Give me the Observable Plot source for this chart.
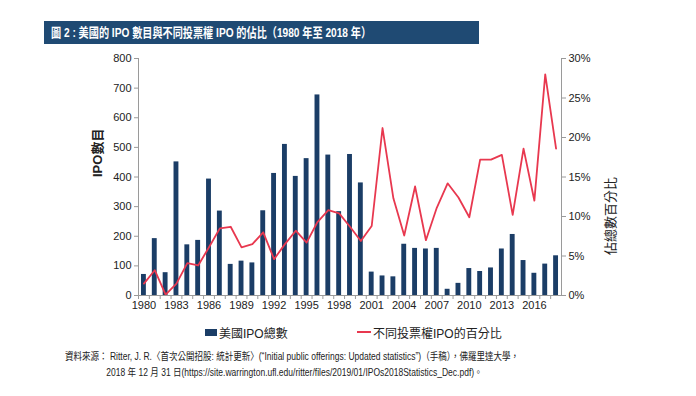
<!DOCTYPE html>
<html><head><meta charset="utf-8">
<script src="https://cdn.jsdelivr.net/npm/d3@7"></script>
<script src="https://cdn.jsdelivr.net/npm/@observablehq/plot@0.6"></script>
<style>
body{margin:0;background:#fff;font-family:"Liberation Sans","Noto Sans CJK TC",sans-serif;color:#222;}
#wrap{position:relative;width:696px;height:396px;overflow:hidden;}
#title{position:absolute;left:44px;top:21px;width:435px;height:23px;background:#1f4a73;color:#fff;font-weight:bold;font-size:13px;line-height:23px;padding-left:7px;box-sizing:border-box;white-space:nowrap;}
#title span{display:inline-block;transform:scaleX(0.78);transform-origin:left center;}
#chart{position:absolute;left:0;top:50px;}
#legend{position:absolute;top:324px;left:0;width:696px;height:16px;font-size:12px;}
.lg{position:absolute;top:0;display:flex;align-items:center;height:16px;white-space:nowrap;}
.sw-bar{display:inline-block;width:12px;height:7px;margin-right:2px;}
.sw-line{display:inline-block;width:14px;height:2px;margin-right:2px;}
#caption{position:absolute;left:65px;top:348px;font-size:10.5px;line-height:16px;white-space:nowrap;transform:scaleX(0.81);transform-origin:left top;}
#caption .l2{padding-left:51px;}
</style>
</head><body>
<div id="wrap">
  <div id="title"><span></span></div>
  <div id="chart"></div>
  <div id="legend"></div>
  <div id="caption"></div>
</div>
<script>
const titleText = "圖 2 : 美國的 IPO 數目與不同投票權 IPO 的佔比（1980 年至 2018 年）";
const years = [1980,1981,1982,1983,1984,1985,1986,1987,1988,1989,1990,1991,1992,1993,1994,1995,1996,1997,1998,1999,2000,2001,2002,2003,2004,2005,2006,2007,2008,2009,2010,2011,2012,2013,2014,2015,2016,2017,2018];
const ipoCount = [71,192,77,451,171,186,393,285,105,116,110,286,412,510,402,462,677,474,283,476,380,79,66,63,173,159,157,159,21,41,91,81,93,157,206,118,75,106,134];
const dualPct = [1.5,3.2,0.1,1.5,4.1,3.8,6.1,8.5,8.7,6.1,6.5,8.0,4.6,6.5,8.2,6.7,9.3,10.8,10.4,8.7,6.9,8.8,21.2,12.3,7.6,13.8,7.0,11.1,14.2,12.4,9.9,17.2,17.2,17.8,10.2,18.6,12.0,28.0,18.6];
const leftTicks = [0,100,200,300,400,500,600,700,800];
const pctTicks = [0,5,10,15,20,25,30];
const labelYears = [1980,1983,1986,1989,1992,1995,1998,2001,2004,2007,2010,2013,2016];
const seriesNames = ["美國IPO總數","不同投票權IPO的百分比"];
const leftLabel = "IPO數目";
const rightLabel = "佔總數百分比";
const captionLines = [
  "資料來源： Ritter, J. R.〈首次公開招股: 統計更新〉(“Initial public offerings: Updated statistics”)（手稿），佛羅里達大學，",
  "2018 年 12 月 31 日(https://site.warrington.ufl.edu/ritter/files/2019/01/IPOs2018Statistics_Dec.pdf)。"
];

const barColor = "#1b3d66";
const lineColor = "#e8384f";
const axisColor = "#9a9a9a";
const font = "'Liberation Sans','Noto Sans CJK TC',sans-serif";

document.querySelector("#title span").textContent = titleText;

const data = years.map((y,i)=>({year:y, count:ipoCount[i], pct:dualPct[i]}));
const K = 800/30;
const W = 696, mL = 138, mR = 135;
const step = (W - mL - mR) / years.length;

const chart = Plot.plot({
  width: W, height: 265,
  marginLeft: mL, marginRight: mR, marginTop: 8, marginBottom: 20,
  style: {fontFamily: font, fontSize: "11px", color: "#222", background: "transparent"},
  x: {type: "band", domain: years, paddingInner: 0.55, paddingOuter: 0.275, round: false, axis: null},
  y: {domain: [0, 800], axis: null},
  marks: [
    Plot.barY(data, {x: "year", y: "count", fill: barColor}),
    Plot.lineY(data, {x: "year", y: d => d.pct * K, stroke: lineColor, strokeWidth: 1.8}),
    Plot.ruleY([0], {stroke: axisColor}),
    Plot.frame({anchor: "left", stroke: axisColor}),
    Plot.frame({anchor: "right", stroke: axisColor}),
    Plot.axisY({anchor: "left", ticks: leftTicks, tickSize: 4, tickPadding: 3, stroke: axisColor, fill: "#222", label: null, fontSize: 11}),
    Plot.axisY({anchor: "right", ticks: pctTicks.map(p => p * K), tickFormat: d => Math.round(d / K) + "%", tickSize: 4, tickPadding: 3, stroke: axisColor, fill: "#222", label: null, fontSize: 11}),
    Plot.axisX({ticks: years, tickFormat: () => "", tickSize: 4, dx: -step / 2, stroke: axisColor, label: null}),
    Plot.axisX({ticks: labelYears, tickFormat: d => String(d), tickSize: 0, tickPadding: 6, fill: "#222", label: null, fontSize: 11}),
    Plot.text([leftLabel], {frameAnchor: "left", text: d => d, rotate: -90, dx: -41, fontSize: 13, fontWeight: "bold", fill: "#222"}),
    Plot.text([rightLabel], {frameAnchor: "right", text: d => d, rotate: -90, dx: 49, fontSize: 13, fill: "#222"})
  ]
});
document.getElementById("chart").appendChild(chart);

const lg = document.getElementById("legend");
lg.innerHTML = `<div class="lg" style="left:205px"><span class="sw-bar" style="background:${barColor}"></span>${seriesNames[0]}</div>
<div class="lg" style="left:357px"><span class="sw-line" style="background:${lineColor}"></span>${seriesNames[1]}</div>`;

const cap = document.getElementById("caption");
cap.innerHTML = `<div>${captionLines[0]}</div><div class="l2">${captionLines[1]}</div>`;
</script>
</body></html>
